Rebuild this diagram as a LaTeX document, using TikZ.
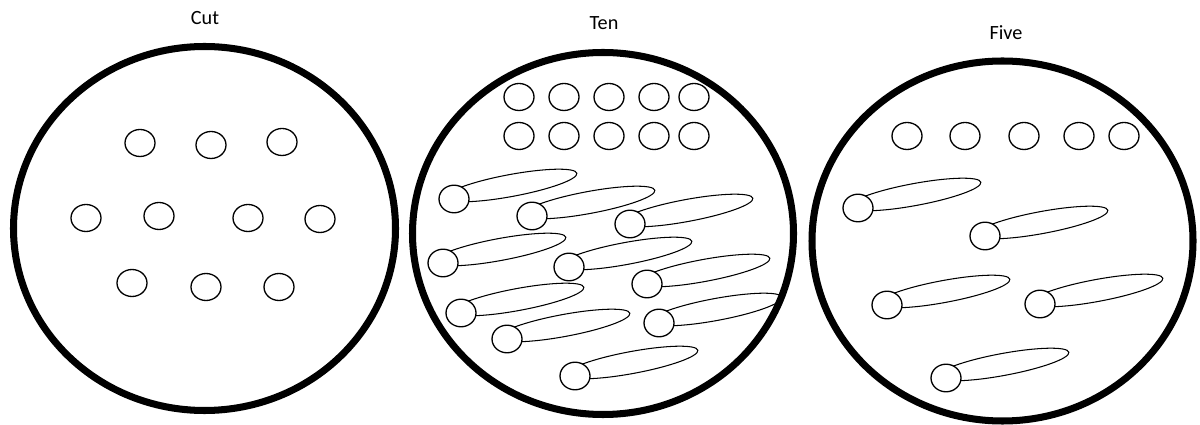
\documentclass[tikz,border=0pt]{standalone}
\usepackage{fontspec}
\setmainfont{Carlito}
\begin{document}
\begin{tikzpicture}[x=0.02cm,y=-0.02cm,
  dish/.style={draw=black,line width=4pt},
  cell/.style={draw=black,line width=0.75pt},
  tail/.style={draw=black,line width=0.6pt},
  title/.style={font=\fontsize{11.5}{13}\selectfont,inner sep=0pt},
  comet/.pic={
    \draw[tail,rotate around={10.5:(57,-13.5)}] (57,-13.5) ellipse [x radius=67, y radius=11];
    \draw[cell,fill=white] (0,0) ellipse [x radius=15, y radius=13.8];
  }]
\useasboundingbox (0,0) rectangle (1200,425);

% titles
\node[title] (tcut)  at (205,18) {Cut};
\node[title] (tten)  at (604,23) {Ten};
\node[title] (tfive) at (1006,33) {Five};

% dishes
\draw[dish] (204.5,228.5) ellipse [x radius=191, y radius=182];
\draw[dish] (603,233.5)  ellipse [x radius=190.5, y radius=181];
\draw[dish] (1002.5,241) ellipse [x radius=190.5, y radius=180];

% Cut: separate cells
\foreach \cx/\cy in {140/143,211/145,282/142,
                     86/218,159/216,248/218,320/219,
                     132/283,206/287,279/287}
  \draw[cell] (\cx,\cy) ellipse [x radius=15, y radius=13.5];

% Ten: two rows of cells
\foreach \cx in {519,564,609,654,694}{
  \draw[cell] (\cx,97) ellipse [x radius=15, y radius=13.5];
  \draw[cell] (\cx,136) ellipse [x radius=15, y radius=13.5];
}
% Ten: cells with tails
\foreach \hx/\hy in {454/199,532/216,630/224,
                     443/263,569/267,647/284,
                     461/313,507/339,659/323,
                     575/376}
  \pic at (\hx,\hy) {comet};

% Five: one row of cells
\foreach \cx in {907,965,1024,1079,1124}
  \draw[cell] (\cx,136) ellipse [x radius=15, y radius=13.5];
% Five: cells with tails
\foreach \hx/\hy in {858/208,985/236,887/305,1040/304,946/378}
  \pic at (\hx,\hy) {comet};
\end{tikzpicture}
\end{document}
